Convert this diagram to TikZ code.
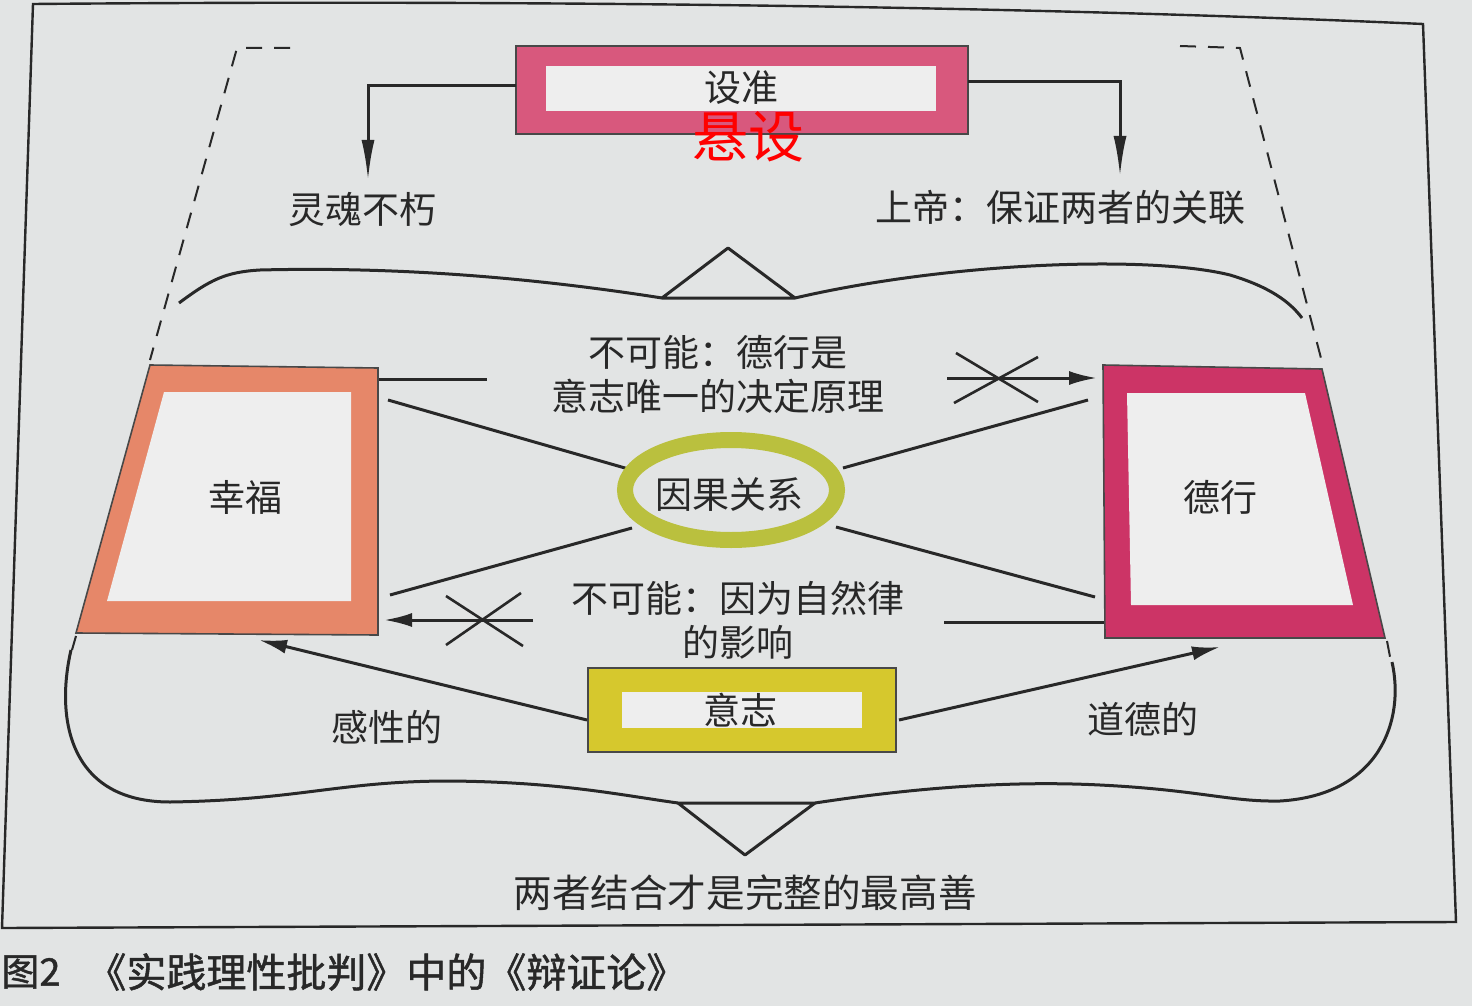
\documentclass[tikz,border=0pt]{standalone}
\usepackage{fontspec}
\newfontfamily\cjk{Noto Sans CJK SC}
\newfontfamily\cjkb[FakeBold=1.2]{Noto Sans CJK SC}
\usetikzlibrary{arrows.meta}
\definecolor{paper}{RGB}{226,228,228}
\definecolor{ink}{RGB}{40,40,40}
\definecolor{pinkb}{RGB}{216,88,125}
\definecolor{orangeb}{RGB}{230,135,105}
\definecolor{magb}{RGB}{204,52,102}
\definecolor{yelb}{RGB}{214,200,45}
\definecolor{ringc}{RGB}{186,192,62}
\definecolor{innerw}{RGB}{238,238,238}
\begin{document}
\begin{tikzpicture}[x=0.5pt,y=-0.5pt,
  lbl/.style={font=\cjk\fontsize{18.5pt}{22pt}\selectfont, text=ink, inner sep=0pt},
  conn/.style={draw=ink, line width=1.5pt},
  arr/.style={conn, -{Latex[length=14pt,width=7pt]}},
  varr/.style={conn, -{Latex[length=20pt,width=6.5pt]}},
  dsh/.style={draw=ink, line width=1pt, dash pattern=on 8pt off 6pt},
  outl/.style={draw=ink!85, line width=0.8pt},
  brace/.style={draw=ink, line width=1.5pt, line join=round}]
\fill[paper] (0,0) rectangle (1472,1006);
\useasboundingbox (0,0) rectangle (1472,1006);
% outer frame
\draw[ink, line width=1.2pt] (33,4) .. controls (500,0) and (1000,5) .. (1423,24) -- (1456,922) -- (2,928) -- cycle;
% named points
\coordinate (szL) at (516,86);
\coordinate (szR) at (968,82);
\coordinate (lhT) at (368,180);
\coordinate (sdT) at (1120,176);
% top box
\fill[pinkb] (516,46) rectangle (968,134);
\fill[innerw] (546,66) rectangle (936,111);
\draw[outl] (516,46) rectangle (968,134);
\node[lbl] (sz) at (741,88) {设准};
% arrows from top box
\draw[varr] (szL) -| (lhT);
\draw[varr] (szR) -| (sdT);
\node[lbl] (lh) at (362,210) {灵魂不朽};
\node[lbl] (sd) at (1060,207) {上帝：保证两者的关联};
% dashed lines
\coordinate (dl1) at (290,48); \coordinate (dl2) at (237,48); \coordinate (dl3) at (150,360);
\coordinate (dr1) at (1180,46); \coordinate (dr2) at (1240,48); \coordinate (dr3) at (1322,362);
\draw[dsh] (dl1) -- (dl2) -- (dl3);
\draw[dsh] (dr1) -- (dr2) -- (dr3);
\draw[dsh] (76,636) -- (72,650);
\draw[dsh] (1387,641) -- (1391,662);
% upper brace
\draw[brace] (179,303) .. controls (210,280) and (225,272) .. (260,270)
  .. controls (420,266) and (560,282) .. (662,298);
\draw[brace] (662,298) -- (728,248) -- (795,298) -- cycle;
\draw[brace] (795,298) .. controls (950,262) and (1150,255) .. (1230,275)
  .. controls (1270,287) and (1290,302) .. (1302,318);
% lower brace
\draw[brace] (71,650) .. controls (55,720) and (70,802) .. (170,802)
  .. controls (300,800) and (340,781) .. (450,781)
  .. controls (560,782) and (620,795) .. (678,803);
\draw[brace] (678,803) -- (745,855) -- (815,803) -- cycle;
\draw[brace] (815,803) .. controls (900,790) and (1000,780) .. (1100,785)
  .. controls (1200,790) and (1230,802) .. (1280,801)
  .. controls (1380,795) and (1405,720) .. (1392,662);
% happiness trapezoid
\fill[orangeb] (150,365) -- (378,368) -- (378,635) -- (76,633) -- cycle;
\fill[innerw] (164,392) -- (351,392) -- (351,601) -- (107,601) -- cycle;
\draw[outl] (76,633) -- (150,365) -- (378,368) -- (378,635) -- cycle;
\node[lbl] (xf) at (245,497) {幸福};
% virtue trapezoid
\fill[magb] (1103,365) -- (1322,369) -- (1385,638) -- (1105,638) -- cycle;
\fill[innerw] (1127,393) -- (1305,393) -- (1353,605) -- (1131,605) -- cycle;
\draw[outl] (1103,365) -- (1322,369) -- (1385,638) -- (1105,638) -- cycle;
\node[lbl] (dx) at (1220,497) {德行};
% will box
\fill[yelb] (588,668) rectangle (896,752);
\fill[innerw] (622,692) rectangle (862,728);
\draw[outl] (588,668) rectangle (896,752);
\node[lbl] (yz) at (740,710) {意志};
% connector points
\coordinate (a1) at (379,379); \coordinate (a2) at (487,379);
\coordinate (b1) at (388,400); \coordinate (b2) at (632,470);
\coordinate (c1) at (632,528); \coordinate (c2) at (390,595);
\coordinate (d1) at (533,620); \coordinate (d2) at (384,620);
\coordinate (e1) at (944,622); \coordinate (e2) at (1104,622);
\coordinate (f1) at (836,527); \coordinate (f2) at (1095,597);
\coordinate (g1) at (843,468); \coordinate (g2) at (1088,400);
\coordinate (h1) at (947,378); \coordinate (h2) at (1097,378);
\coordinate (w1) at (587,720); \coordinate (w2) at (259,640);
\coordinate (v1) at (899,720); \coordinate (v2) at (1220,647);
\draw[conn] (a1) -- (a2);
\draw[conn] (b1) -- (b2);
\draw[conn] (c1) -- (c2);
\draw[arr] (d1) -- (d2);
\draw[conn, line width=1.3pt] (446,596) -- (523,646) (521,593) -- (446,645);
\draw[conn] (e1) -- (e2);
\draw[conn] (f1) -- (f2);
\draw[conn] (g1) -- (g2);
\draw[arr] (h1) -- (h2);
\draw[conn, line width=1.3pt] (956,353) -- (1038,402) (1038,357) -- (954,403);
\draw[arr] (w1) -- (w2);
\draw[arr] (v1) -- (v2);
% causal ring
\draw[ringc, line width=8pt] (731,490) ellipse [x radius=53pt, y radius=25pt];
\node[lbl] (yg) at (729,495) {因果关系};
% labels
\node[lbl] (t1) at (718,352) {不可能：德行是};
\node[lbl] (t2) at (718,396) {意志唯一的决定原理};
\node[lbl] (t3) at (738,598) {不可能：因为自然律};
\node[lbl] (t4) at (738,642) {的影响};
\node[lbl] (gx) at (387,727) {感性的};
\node[lbl] (dd) at (1143,719) {道德的};
\node[lbl, font=\cjk\fontsize{19.3pt}{22pt}\selectfont] (zg) at (745,893) {两者结合才是完整的最高善};
% red overlay
\node[font=\cjk\fontsize{28pt}{30pt}\selectfont, text=red, inner sep=0pt] (xs) at (748,137) {悬设};
% caption
\node[font=\cjkb\fontsize{19pt}{22pt}\selectfont, text=ink, inner sep=0pt, anchor=west] (cap1) at (1,972) {图2};
\node[font=\cjkb\fontsize{20pt}{23pt}\selectfont, text=ink, inner sep=0pt, anchor=west] (cap2) at (86,972) {《实践理性批判》中的《辩证论》};
\end{tikzpicture}
\end{document}
